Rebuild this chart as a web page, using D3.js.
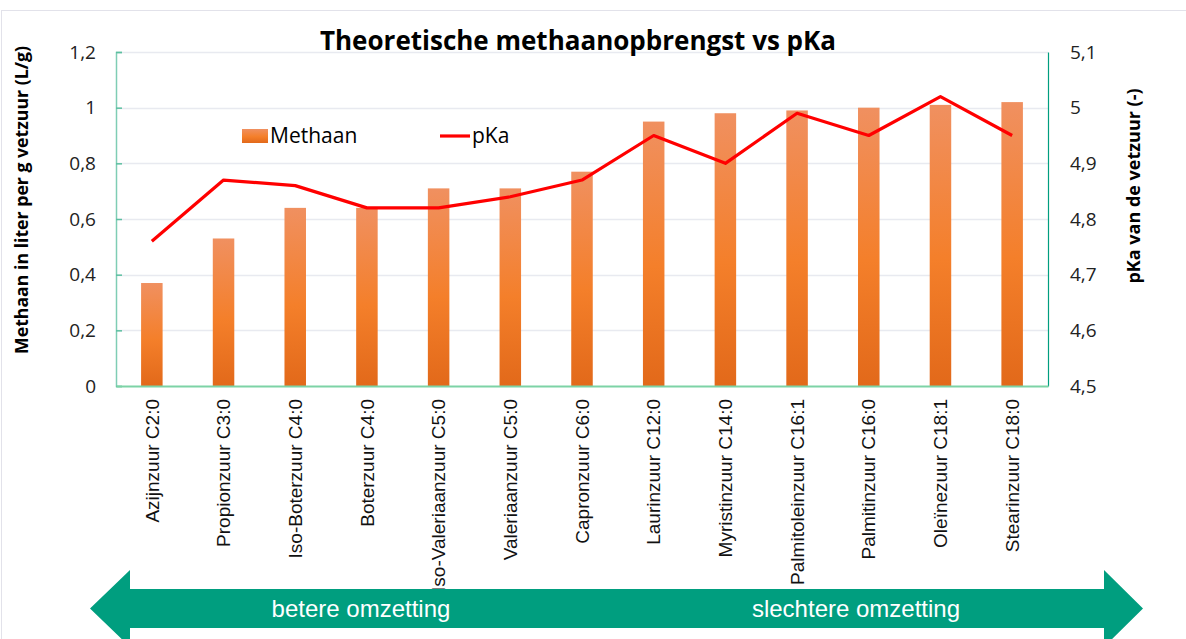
<html>
<head>
<script src="https://d3js.org/d3.v7.min.js"></script>
<style>
  body { margin: 0; background: #fff; }
  text { font-family: "Open Sans", "Liberation Sans", sans-serif; }
</style>
</head>
<body>
<script>
// chart data
var categories = ["Azijnzuur C2:0", "Propionzuur C3:0", "Iso-Boterzuur C4:0", "Boterzuur C4:0",
  "Iso-Valeriaanzuur C5:0", "Valeriaanzuur C5:0", "Capronzuur C6:0", "Laurinzuur C12:0",
  "Myristinzuur  C14:0", "Palmitoleinzuur C16:1", "Palmitinzuur C16:0", "Oleïnezuur C18:1", "Stearinzuur C18:0"];
var methaan = [0.37, 0.53, 0.64, 0.64, 0.71, 0.71, 0.77, 0.95, 0.98, 0.99, 1.00, 1.01, 1.02];
var pKa = [4.76, 4.87, 4.86, 4.82, 4.82, 4.84, 4.87, 4.95, 4.90, 4.99, 4.95, 5.02, 4.95];
var leftTicks = [0, 0.2, 0.4, 0.6, 0.8, 1, 1.2];
var rightTicks = [4.5, 4.6, 4.7, 4.8, 4.9, 5, 5.1];

var W = 1186, H = 639;
var plot = {left: 116, right: 1048, top: 52, bottom: 386};

var svg = d3.select("body").append("svg")
    .attr("width", W).attr("height", H);

var defs = svg.append("defs");
var grad = defs.append("linearGradient").attr("id", "barGrad")
    .attr("x1", 0).attr("y1", 0).attr("x2", 0).attr("y2", 1);
grad.append("stop").attr("offset", "0%").attr("stop-color", "#f09060");
grad.append("stop").attr("offset", "55%").attr("stop-color", "#f47f2a");
grad.append("stop").attr("offset", "100%").attr("stop-color", "#e2691a");

// frame
svg.append("rect").attr("x", 1.5).attr("y", 10.5).attr("width", W).attr("height", H)
    .attr("fill", "none").attr("stroke", "#e2e2ea");

var x = d3.scaleBand().domain(categories).range([plot.left, plot.right]).paddingInner(0.7).paddingOuter(0.35);
var y = d3.scaleLinear().domain([0, 1.2]).range([plot.bottom, plot.top]);
var y2 = d3.scaleLinear().domain([4.5, 5.1]).range([plot.bottom, plot.top]);

// grid
svg.append("g").selectAll("line").data(leftTicks.slice(1)).join("line")
    .attr("x1", plot.left).attr("x2", plot.right)
    .attr("y1", function(d) { return Math.round(y(d)) + 0.5; })
    .attr("y2", function(d) { return Math.round(y(d)) + 0.5; })
    .attr("stroke", "#e8eaf0").attr("stroke-width", 1.5);

// bars
svg.append("g").selectAll("rect").data(methaan).join("rect")
    .attr("x", function(d, i) { return x(categories[i]); })
    .attr("width", x.bandwidth())
    .attr("y", function(d) { return y(d); })
    .attr("height", function(d) { return y(0) - y(d); })
    .attr("fill", "url(#barGrad)");

// left axis
var gl = svg.append("g").attr("transform", "translate(" + plot.left + ",0)")
    .call(d3.axisLeft(y).tickValues(leftTicks).tickSize(-6).tickPadding(20)
      .tickFormat(function(d) { return String(d).replace(".", ","); }));
gl.select(".domain").attr("stroke", "#7fcdb5").attr("stroke-width", 1.5);
gl.selectAll(".tick line").attr("stroke", "#5cbfa0").attr("stroke-width", 1.5);
gl.selectAll(".tick text").attr("font-size", 19).attr("fill", "#222")
    .style("font-family", "'Open Sans', sans-serif");

// right axis
var gr = svg.append("g").attr("transform", "translate(" + plot.right + ",0)")
    .call(d3.axisRight(y2).tickValues(rightTicks).tickSize(0).tickPadding(22)
      .tickFormat(function(d) { return String(d).replace(".", ","); }));
gr.select(".domain").attr("stroke", "#009e7f").attr("stroke-width", 1.2);
gr.selectAll(".tick text").attr("font-size", 19).attr("fill", "#222");

// bottom axis
var gb = svg.append("g").attr("transform", "translate(0," + plot.bottom + ")")
    .call(d3.axisBottom(x).tickSize(0).tickPadding(0));
gb.select(".domain").attr("stroke", "#7dd3a6").attr("stroke-width", 2);
gb.selectAll(".tick text")
    .attr("transform", "rotate(-90)")
    .attr("text-anchor", "end")
    .attr("x", -13).attr("y", 0).attr("dy", "0.35em")
    .attr("font-size", 19).attr("fill", "#111")
    .style("font-family", "'Liberation Sans', Arial, sans-serif");

// pKa line
var line = d3.line()
    .x(function(d, i) { return x(categories[i]) + x.bandwidth() / 2; })
    .y(function(d) { return y2(d); });
svg.append("path").datum(pKa).attr("d", line)
    .attr("fill", "none").attr("stroke", "#ff0000").attr("stroke-width", 3.2)
    .attr("stroke-linejoin", "round");

// title
svg.append("text").attr("x", 578).attr("y", 50).attr("text-anchor", "middle")
    .attr("font-size", 26).attr("font-weight", "bold").attr("fill", "#000")
    .text("Theoretische methaanopbrengst vs pKa");

// axis titles
svg.append("text").attr("transform", "translate(28,200) rotate(-90)")
    .attr("text-anchor", "middle").attr("font-size", 17.7).attr("font-weight", "bold")
    .text("Methaan in liter per g vetzuur (L/g)");
svg.append("text").attr("transform", "translate(1140,186) rotate(-90)")
    .attr("text-anchor", "middle").attr("font-size", 18).attr("font-weight", "bold")
    .text("pKa van de vetzuur (-)");

// legend
svg.append("rect").attr("x", 242).attr("y", 129).attr("width", 26).attr("height", 14)
    .attr("fill", "url(#barGrad)");
svg.append("text").attr("x", 270).attr("y", 143).attr("font-size", 21).text("Methaan");
svg.append("line").attr("x1", 440).attr("x2", 470).attr("y1", 136).attr("y2", 136)
    .attr("stroke", "#ff0000").attr("stroke-width", 3.2);
svg.append("text").attr("x", 472).attr("y", 143).attr("font-size", 21).text("pKa");

// double arrow
var aTop = 589, aBot = 628, aMid = (aTop + aBot) / 2;
var arrowPts = [[90, aMid], [130, aMid - 38.5], [130, aTop], [1104, aTop], [1104, aMid - 38.5],
  [1143, aMid], [1104, aMid + 38.5], [1104, aBot], [130, aBot], [130, aMid + 38.5]];
svg.append("path").attr("d", d3.line()(arrowPts) + "Z").attr("fill", "#009e7f");
svg.append("text").attr("x", 361).attr("y", 617).attr("text-anchor", "middle")
    .attr("font-size", 24).attr("fill", "#fff")
    .style("font-family", "'Liberation Sans', Arial, sans-serif").text("betere omzetting");
svg.append("text").attr("x", 856).attr("y", 617).attr("text-anchor", "middle")
    .attr("font-size", 24).attr("fill", "#fff")
    .style("font-family", "'Liberation Sans', Arial, sans-serif").text("slechtere omzetting");
</script>
</body>
</html>
